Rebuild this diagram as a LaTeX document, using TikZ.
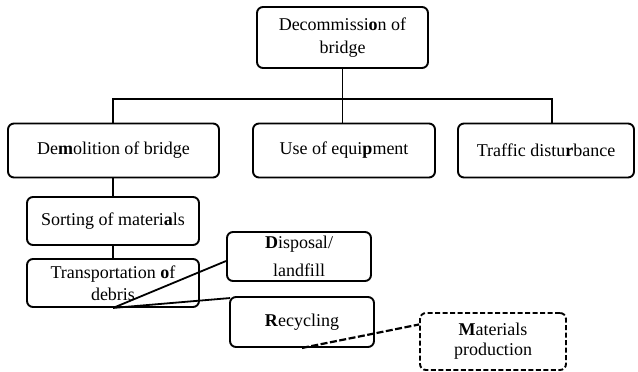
\documentclass[tikz,border=0pt]{standalone}
\usepackage{fontspec}
\setmainfont{Liberation Serif}
\usetikzlibrary{calc}
\tikzset{
  box/.style={draw, rounded corners=6pt, line width=1.9pt, align=center, inner sep=0pt,
    font=\fontsize{18}{23}\selectfont},
  conn/.style={line width=1.8pt},
}
\begin{document}
\begin{tikzpicture}[x=1pt,y=-1pt]
\useasboundingbox (0,0) rectangle (638,372);
\node[box, minimum width=171pt, minimum height=61pt] (top) at (342.5,37.5) {Decommissi\textbf{o}n of\\bridge};
\node[box, minimum width=211pt, minimum height=54pt] (demo) at (113.5,150.5) {De\textbf{m}olition of bridge};
\node[box, minimum width=182pt, minimum height=54pt] (equip) at (344,150.5) {Use of equi\textbf{p}ment};
\node[box, minimum width=176pt, minimum height=54pt] (traffic) at (546,150.5) {Traffic distu\textbf{r}bance};
\node[box, minimum width=172pt, minimum height=48pt] (sort) at (113,221) {Sorting of materi\textbf{a}ls};
\node[box, minimum width=172pt, minimum height=48pt, font=\fontsize{18}{22}\selectfont] (trans) at (113,283) {Transportation \textbf{o}f\\debris};
\node[box, minimum width=144pt, minimum height=49pt, font=\fontsize{18}{28}\selectfont] (disp) at (299,256.5) {\textbf{D}isposal/\\landfill};
\node[box, minimum width=144pt, minimum height=50pt] (recyc) at (302,322) {\textbf{R}ecycling};
\node[box, dashed, dash pattern=on 5pt off 2.5pt, minimum width=146pt, minimum height=57pt, font=\fontsize{18}{20}\selectfont] (mat) at (493,341.5) {\textbf{M}aterials\\production};

\draw[conn] (top.south) -- ++(0,30) coordinate (j);
\draw[conn] (demo.north -| 113,0) |- (j);
\draw[conn] (j) -| ([xshift=6pt]traffic.north);
\draw[conn] (j) -- (j |- equip.north);
\draw[conn] (demo.south -| sort.north) -- (sort.north);
\draw[conn] (sort.south) -- (trans.north);
\draw[conn] (trans.south) -- ($(disp.west)+(0,4.5)$);
\draw[conn] (trans.south) -- ($(recyc.north west)+(1,2)$);
\draw[line width=2.2pt, dash pattern=on 7pt off 2.5pt] (recyc.south) -- ($(mat.west)+(0,-17)$);
\end{tikzpicture}
\end{document}
